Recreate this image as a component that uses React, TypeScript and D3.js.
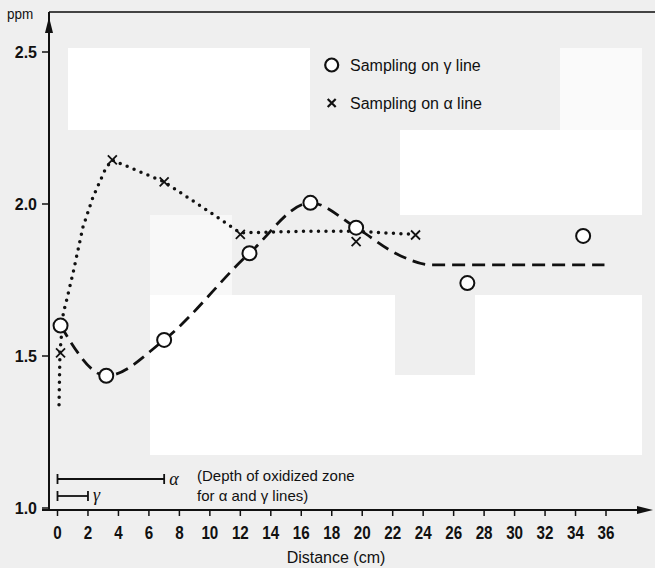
import React from "react";
import * as d3 from "d3";

// samples: distance (cm) and concentration (ppm)
const gammaDist = [0.2, 3.2, 7.0, 12.6, 16.6, 19.6, 26.9, 34.5];
const gammaPpm = [1.6, 1.435, 1.553, 1.838, 2.004, 1.922, 1.74, 1.895];
const alphaDist = [0.2, 3.6, 7.0, 12.0, 19.6, 23.5];
const alphaPpm = [1.51, 2.145, 2.073, 1.9, 1.876, 1.898];

// hand-drawn trend curves
const gammaTrendDist = [0.2, 3.2, 7.0, 12.6, 16.6, 19.6, 22.5, 24.5, 30, 35.9];
const gammaTrendPpm = [1.6, 1.435, 1.553, 1.838, 2.004, 1.922, 1.83, 1.8, 1.8, 1.8];
const alphaTrendDist = [0.1, 0.16, 0.38, 0.6, 1.02, 1.67, 2.33, 3.12, 3.56, 7.0, 9.5, 12.0, 16.0, 19.6, 23.5];
const alphaTrendPpm = [1.34, 1.509, 1.641, 1.684, 1.773, 1.924, 2.023, 2.112, 2.145, 2.073, 1.99, 1.905, 1.91, 1.91, 1.9];

// depth of oxidized zone (cm)
const alphaDepth = 7;
const gammaDepth = 2;

const xTicks = d3.range(0, 37, 2);
const yTicks = [1.0, 1.5, 2.0, 2.5];

const W = 655;
const H = 568;
const sans = "'Liberation Sans', Arial, sans-serif";

// text squeezed horizontally, like the condensed face of the original
const Txt = ({ x, y, sx = 1, anchor = "start", size = 15, weight = "normal", children }: any) => (
  <text
    transform={`translate(${x},${y}) scale(${sx},1)`}
    dy="0.35em"
    textAnchor={anchor}
    fontFamily={sans}
    fontSize={size}
    fontWeight={weight}
    fill="#111"
  >
    {children}
  </text>
);

const App = () => {
  const x = d3.scaleLinear().domain([0, 36]).range([57.5, 606]);
  const y = d3.scaleLinear().domain([1, 2.5]).range([508, 52]);
  const axisX = 49;
  const axisY = 510;

  const gammaLine = d3
    .line<number>()
    .x((d) => x(d))
    .y((d, i) => y(gammaTrendPpm[i]))
    .curve(d3.curveMonotoneX);
  const alphaLine = d3
    .line<number>()
    .x((d) => x(d))
    .y((d, i) => y(alphaTrendPpm[i]))
    .curve(d3.curveLinear);

  const cross = (cx: number, cy: number, s: number) =>
    `M${cx - s},${cy - s}L${cx + s},${cy + s}M${cx - s},${cy + s}L${cx + s},${cy - s}`;

  return (
    <svg
      width={W}
      height={H}
      style={{ position: "absolute", left: 0, top: 0, background: "#efefef" }}
    >
      {/* scan background patches */}
      <rect x={68} y={48} width={242} height={82} fill="#fff" />
      <rect x={560} y={48} width={82} height={82} fill="#fafafa" />
      <rect x={400} y={130} width={242} height={85} fill="#fff" />
      <rect x={150} y={215} width={82} height={80} fill="#f8f8f8" />
      <rect x={150} y={295} width={245} height={160} fill="#fff" />
      <rect x={475} y={295} width={167} height={160} fill="#fff" />
      <rect x={395} y={375} width={80} height={80} fill="#fff" />

      {/* top frame */}
      <line x1={axisX} x2={W} y1={12} y2={12} stroke="#444" strokeWidth={2} />

      {/* y axis */}
      <line x1={axisX} x2={axisX} y1={axisY} y2={12} stroke="#111" strokeWidth={2} />
      <path d={`M${axisX},17L${axisX - 4},33L${axisX + 4},33Z`} fill="#111" />
      {yTicks.map((t) => (
        <g key={t}>
          <line x1={axisX - 7} x2={axisX} y1={y(t)} y2={y(t)} stroke="#111" strokeWidth={1.5} />
          <Txt x={axisX - 12} y={y(t)} anchor="end" size={16} weight="bold">
            {t.toFixed(1)}
          </Txt>
        </g>
      ))}
      <Txt x={7} y={14} size={15} sx={0.9}>
        ppm
      </Txt>

      {/* x axis */}
      <line x1={axisX - 7} x2={640} y1={axisY} y2={axisY} stroke="#111" strokeWidth={2} />
      <path d={`M653,${axisY}L637,${axisY - 4}L637,${axisY + 4}Z`} fill="#111" />
      {xTicks.map((t) => (
        <g key={t}>
          <line x1={x(t)} x2={x(t)} y1={axisY} y2={axisY + 6} stroke="#111" strokeWidth={1.5} />
          <Txt x={x(t)} y={axisY + 22} anchor="middle" size={19} weight="bold" sx={0.8}>
            {t}
          </Txt>
        </g>
      ))}
      <Txt x={336} y={557} anchor="middle" size={16}>
        Distance (cm)
      </Txt>

      {/* trend curves */}
      <path
        d={alphaLine(alphaTrendDist) || ""}
        fill="none"
        stroke="#111"
        strokeWidth={3.5}
        strokeLinecap="round"
        strokeLinejoin="round"
        strokeDasharray="0,7.5"
      />
      <path
        d={gammaLine(gammaTrendDist) || ""}
        fill="none"
        stroke="#111"
        strokeWidth={2.8}
        strokeDasharray="13,7"
      />

      {/* samples */}
      {alphaDist.map((d, i) => (
        <path key={"a" + i} d={cross(x(d), y(alphaPpm[i]), 4.5)} stroke="#111" strokeWidth={1.8} />
      ))}
      {gammaDist.map((d, i) => (
        <circle key={"g" + i} cx={x(d)} cy={y(gammaPpm[i])} r={7} fill="#fff" stroke="#111" strokeWidth={2} />
      ))}

      {/* legend */}
      <circle cx={331.7} cy={65} r={6.5} fill="#fff" stroke="#111" strokeWidth={2.2} />
      <Txt x={350} y={65} size={16}>
        Sampling on γ line
      </Txt>
      <path d={cross(331.7, 103, 4)} stroke="#111" strokeWidth={2.2} />
      <Txt x={350} y={103} size={16}>
        Sampling on α line
      </Txt>

      {/* depth brackets */}
      <g stroke="#111" strokeWidth={1.8}>
        <line x1={x(0)} x2={x(alphaDepth)} y1={479} y2={479} />
        <line x1={x(0)} x2={x(0)} y1={474} y2={484} />
        <line x1={x(alphaDepth)} x2={x(alphaDepth)} y1={474} y2={484} />
        <line x1={x(0)} x2={x(gammaDepth)} y1={496} y2={496} />
        <line x1={x(0)} x2={x(0)} y1={491} y2={501} />
        <line x1={x(gammaDepth)} x2={x(gammaDepth)} y1={491} y2={501} />
      </g>
      <text x={x(alphaDepth) + 5} y={479} dy="0.35em" fontFamily="'Liberation Serif', serif" fontStyle="italic" fontSize={18} fill="#111">
        α
      </text>
      <text x={x(gammaDepth) + 5} y={495} dy="0.35em" fontFamily="'Liberation Serif', serif" fontStyle="italic" fontSize={18} fill="#111">
        γ
      </text>
      <Txt x={197} y={476} size={15}>
        (Depth of oxidized zone
      </Txt>
      <Txt x={197} y={496} size={15}>
        for α and γ lines)
      </Txt>
    </svg>
  );
};

export default App;
